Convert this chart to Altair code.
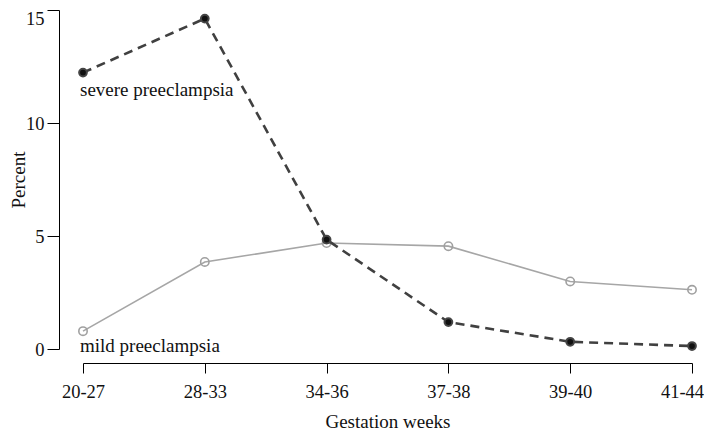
import altair as alt
import pandas as pd

weeks = ["20-27", "28-33", "34-36", "37-38", "39-40", "41-44"]
severe = [12.23, 14.62, 4.84, 1.19, 0.32, 0.13]
mild = [0.79, 3.85, 4.69, 4.55, 2.99, 2.62]
y_ticks = [0, 5, 10, 15]

df = pd.DataFrame({"week": weeks * 2,
                   "pct": severe + mild,
                   "type": ["severe"] * 6 + ["mild"] * 6})
sev = df[df.type == "severe"]
mil = df[df.type == "mild"]
sev_lab = pd.DataFrame({"week": [weeks[0]], "pct": [severe[0]], "text": ["severe preeclampsia"]})
mil_lab = pd.DataFrame({"week": [weeks[0]], "pct": [mild[0]], "text": ["mild preeclampsia"]})

FONT = "Liberation Serif, DejaVu Serif, serif"
FS = 18.5
FT = 19

x = alt.X("week:N", sort=weeks, scale=alt.Scale(type="point", padding=0),
          axis=alt.Axis(title="Gestation weeks", offset=14, labelAngle=0,
                        tickSize=10, labelPadding=9, titlePadding=12,
                        labelOffset={"condition": {"test": "datum.value == '41-44'", "value": -10},
                                     "value": 0},
                        domainColor="#000", tickColor="#000", labelColor="#111",
                        titleColor="#111", labelFontSize=FS, titleFontSize=FT,
                        labelFont=FONT, titleFont=FONT, titleFontWeight="normal",
                        grid=False))
y = alt.Y("pct:Q", scale=alt.Scale(domain=[0, 15], nice=False, zero=True),
          axis=alt.Axis(title="Percent", offset=24, values=y_ticks,
                        tickSize=12, labelPadding=3, titlePadding=-3,
                        labelOffset={"condition": {"test": "datum.value == 15", "value": 8},
                                     "value": 0},
                        domainColor="#000", tickColor="#000", labelColor="#111",
                        titleColor="#111", labelFontSize=FS, titleFontSize=FT,
                        labelFont=FONT, titleFont=FONT, titleFontWeight="normal",
                        grid=False))

mild_line = alt.Chart(mil).mark_line(color="#a6a6a6", strokeWidth=1.6).encode(x=x, y=y)
mild_pts = alt.Chart(mil).mark_point(shape="circle", filled=False, color="#a0a0a0",
                                      size=70, strokeWidth=1.6, opacity=1).encode(x=x, y=y)
sev_line = alt.Chart(sev).mark_line(color="#404040", strokeWidth=2.6,
                                     strokeDash=[9, 6]).encode(x=x, y=y)
sev_pts = alt.Chart(sev).mark_point(shape="circle", filled=True, fill="#111",
                                     stroke="#444", strokeWidth=2, size=60,
                                     opacity=1).encode(x=x, y=y)
lab1 = alt.Chart(sev_lab).mark_text(align="left", baseline="middle", dx=-3, dy=17,
                                     font=FONT, fontSize=FT, color="#111").encode(
    x=x, y=y, text="text:N")
lab2 = alt.Chart(mil_lab).mark_text(align="left", baseline="middle", dx=-3, dy=15,
                                     font=FONT, fontSize=FT, color="#111").encode(
    x=x, y=y, text="text:N")

chart = alt.layer(mild_line, mild_pts, sev_line, sev_pts, lab1, lab2).properties(
    width=609, height=339,
    autosize=alt.AutoSizeParams(type="none"),
    padding={"left": 75, "top": 2, "right": 12, "bottom": 82},
).configure_view(stroke=None)

chart.save("out.html", embed_options={"renderer": "svg", "actions": False})
